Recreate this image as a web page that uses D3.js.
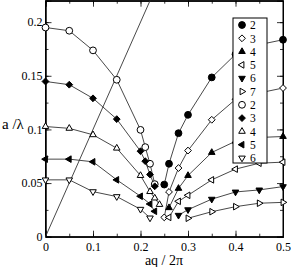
<!DOCTYPE html>
<html>
<head>
<meta charset="utf-8">
<script src="https://cdn.jsdelivr.net/npm/d3@7"></script>
<style>
  body { margin: 0; background: #fff; }
  svg { display: block; font-family: "Liberation Serif", "DejaVu Serif", serif; }
</style>
</head>
<body>
<div id="container"></div>
<script>
const WIDTH = 291,
  HEIGHT = 267,
  LEFT = 45.5, RIGHT = 283, TOP = 0.7, BOTTOM = 236.7;

// right branches (first legend group)
const xR2 = [0.25, 0.26, 0.28, 0.30, 0.35, 0.40, 0.45, 0.50];
const yR2 = [0.0486, 0.068, 0.0965, 0.1136, 0.1485, 0.170, 0.179, 0.1836];
const xR3 = [0.25, 0.26, 0.28, 0.30, 0.35, 0.40, 0.45, 0.50];
const yR3 = [0.018, 0.0417, 0.064, 0.0803, 0.109, 0.128, 0.134, 0.1386];
const xR4 = [0.26, 0.28, 0.30, 0.35, 0.40, 0.45, 0.50];
const yR4 = [0.027, 0.045, 0.057, 0.0785, 0.089, 0.0925, 0.0934];
const xR5 = [0.26, 0.28, 0.30, 0.35, 0.40, 0.45, 0.50];
const yR5 = [0.018, 0.033, 0.0386, 0.053, 0.063, 0.0685, 0.0695];
const xR6 = [0.28, 0.30, 0.35, 0.40, 0.45, 0.50];
const yR6 = [0.020, 0.0252, 0.035, 0.0417, 0.0436, 0.0467];
const xR7 = [0.30, 0.35, 0.40, 0.45, 0.50];
const yR7 = [0.0172, 0.0233, 0.028, 0.0312, 0.032];

// left branches (second legend group)
const xL2 = [0, 0.05, 0.10, 0.15, 0.20, 0.21, 0.22, 0.23];
const yL2 = [0.195, 0.192, 0.1737, 0.1463, 0.0996, 0.0835, 0.068, 0.049];
const xL3 = [0, 0.05, 0.10, 0.15, 0.20, 0.21, 0.22, 0.23];
const yL3 = [0.1447, 0.1417, 0.129, 0.1096, 0.0797, 0.0704, 0.058, 0.047];
const xL4 = [0, 0.05, 0.10, 0.15, 0.20, 0.22, 0.23, 0.24];
const yL4 = [0.1027, 0.101, 0.095, 0.0825, 0.057, 0.042, 0.036, 0.030];
const xL5 = [0, 0.05, 0.10, 0.15, 0.20, 0.22, 0.23];
const yL5 = [0.0723, 0.0723, 0.0698, 0.053, 0.0377, 0.0305, 0.0237];
const xL6 = [0, 0.05, 0.10, 0.15, 0.20, 0.22];
const yL6 = [0.053, 0.053, 0.042, 0.0374, 0.0256, 0.0175];

// light line
const xLight = [0, 0.22];
const yLight = [0, 0.22];

const legendLabels = ["2", "3", "4", "5", "6", "7", "2", "3", "4", "5", "6"];
const xTicks = [0, 0.1, 0.2, 0.3, 0.4, 0.5];
const xTickLabels = ["0", "0.1", "0.2", "0.3", "0.4", "0.5"];
const yTicks = [0, 0.05, 0.1, 0.15, 0.2];
const yTickLabels = ["0", "0.05", "0.1", "0.15", "0.2"];

const series = [
  { xs: xR2, ys: yR2, shape: "circle", filled: true },
  { xs: xR3, ys: yR3, shape: "diamond", filled: false },
  { xs: xR4, ys: yR4, shape: "up", filled: true },
  { xs: xR5, ys: yR5, shape: "left", filled: false },
  { xs: xR6, ys: yR6, shape: "down", filled: true },
  { xs: xR7, ys: yR7, shape: "right", filled: false },
  { xs: xL2, ys: yL2, shape: "circle", filled: false },
  { xs: xL3, ys: yL3, shape: "diamond", filled: true },
  { xs: xL4, ys: yL4, shape: "up", filled: false },
  { xs: xL5, ys: yL5, shape: "left", filled: true },
  { xs: xL6, ys: yL6, shape: "down", filled: false }
];

function markerPath(shape) {
  const r = 3.8;
  if (shape === "circle") return d3.symbol(d3.symbolCircle, Math.PI * 3.4 * 3.4)();
  if (shape === "diamond") return "M0,-3.4L3.4,0L0,3.4L-3.4,0Z";
  const h = r * Math.sqrt(3) / 2;
  const tri = { up: [[0, -r], [h, r / 2], [-h, r / 2]],
    down: [[0, r], [h, -r / 2], [-h, -r / 2]],
    left: [[-r, 0], [r / 2, -h], [r / 2, h]],
    right: [[r, 0], [-r / 2, -h], [-r / 2, h]] }[shape];
  return "M" + tri.map(p => p.join(",")).join("L") + "Z";
}

const svg = d3.select("#container")
  .append("svg")
  .attr("width", WIDTH)
  .attr("height", HEIGHT);

// Scales
const xScale = d3.scaleLinear().domain([0, 0.5]).range([LEFT, RIGHT]);
const yScale = d3.scaleLinear().domain([0, 0.22]).range([BOTTOM, TOP]);

// Axes (ticks pointing inwards, mirrored)
const xMinor = d3.range(0, 0.5001, 0.05);
const yMinor = d3.range(0, 0.2201, 0.025);

svg.append("g")
  .attr("transform", `translate(0,${BOTTOM})`)
  .call(d3.axisBottom(xScale).tickValues(xMinor).tickSize(-3).tickFormat(""));
svg.append("g")
  .attr("transform", `translate(0,${BOTTOM})`)
  .call(d3.axisBottom(xScale).tickValues(xTicks).tickSize(-6).tickPadding(6)
    .tickFormat((d, i) => xTickLabels[i]));
svg.append("g")
  .attr("transform", `translate(0,${TOP})`)
  .call(d3.axisTop(xScale).tickValues(xMinor).tickSize(-3).tickFormat(""));
svg.append("g")
  .attr("transform", `translate(0,${TOP})`)
  .call(d3.axisTop(xScale).tickValues(xTicks).tickSize(-6).tickFormat(""));

svg.append("g")
  .attr("transform", `translate(${LEFT},0)`)
  .call(d3.axisLeft(yScale).tickValues(yMinor).tickSize(-3).tickFormat(""));
svg.append("g")
  .attr("transform", `translate(${LEFT},0)`)
  .call(d3.axisLeft(yScale).tickValues(yTicks).tickSize(-6).tickPadding(3)
    .tickFormat((d, i) => yTickLabels[i]));
svg.append("g")
  .attr("transform", `translate(${RIGHT},0)`)
  .call(d3.axisRight(yScale).tickValues(yMinor).tickSize(-3).tickFormat(""));
svg.append("g")
  .attr("transform", `translate(${RIGHT},0)`)
  .call(d3.axisRight(yScale).tickValues(yTicks).tickSize(-6).tickFormat(""));

svg.selectAll(".domain").attr("stroke", "#000").attr("stroke-width", 1);
svg.selectAll(".tick line").attr("stroke", "#000").attr("stroke-width", 0.8);
svg.selectAll(".tick text")
  .attr("font-family", "Liberation Serif, serif")
  .attr("font-size", 12)
  .attr("fill", "#000");

// frame
svg.append("rect")
  .attr("x", LEFT).attr("y", TOP)
  .attr("width", RIGHT - LEFT).attr("height", BOTTOM - TOP)
  .attr("fill", "none").attr("stroke", "#000").attr("stroke-width", 1);

const line = d3.line().x(d => xScale(d[0])).y(d => yScale(d[1]));

// light line
svg.append("path")
  .attr("d", line(d3.zip(xLight, yLight)))
  .attr("fill", "none").attr("stroke", "#333").attr("stroke-width", 0.9);

// series lines
svg.selectAll(".series-line")
  .data(series)
  .join("path")
  .attr("class", "series-line")
  .attr("d", s => line(d3.zip(s.xs, s.ys)))
  .attr("fill", "none")
  .attr("stroke", "#333")
  .attr("stroke-width", 0.9);

// markers
series.forEach(s => {
  svg.append("g")
    .selectAll("path")
    .data(d3.zip(s.xs, s.ys))
    .join("path")
    .attr("d", markerPath(s.shape))
    .attr("transform", d => `translate(${xScale(d[0])},${yScale(d[1])})`)
    .attr("fill", s.filled ? "#000" : "#fff")
    .attr("stroke", "#000")
    .attr("stroke-width", 1);
});

// legend
const legend = svg.append("g");
legend.append("rect")
  .attr("x", 233).attr("y", 18)
  .attr("width", 34).attr("height", 145)
  .attr("fill", "#fff").attr("stroke", "#000").attr("stroke-width", 1);

const legendY = d3.scaleLinear().domain([0, 10]).range([25, 158]);

series.forEach((s, i) => {
  legend.append("path")
    .attr("d", markerPath(s.shape))
    .attr("transform", `translate(242,${legendY(i)})`)
    .attr("fill", s.filled ? "#000" : "#fff")
    .attr("stroke", "#000")
    .attr("stroke-width", 1);
  legend.append("text")
    .attr("x", 250).attr("y", legendY(i) + 4.2)
    .attr("font-size", 11.5)
    .text(legendLabels[i]);
});

// axis labels
svg.append("text")
  .attr("x", 2).attr("y", 129)
  .attr("font-size", 15)
  .text("a /λ");

svg.append("text")
  .attr("x", 164).attr("y", 265)
  .attr("text-anchor", "middle")
  .attr("font-size", 14)
  .text("aq / 2π");
</script>
</body>
</html>
